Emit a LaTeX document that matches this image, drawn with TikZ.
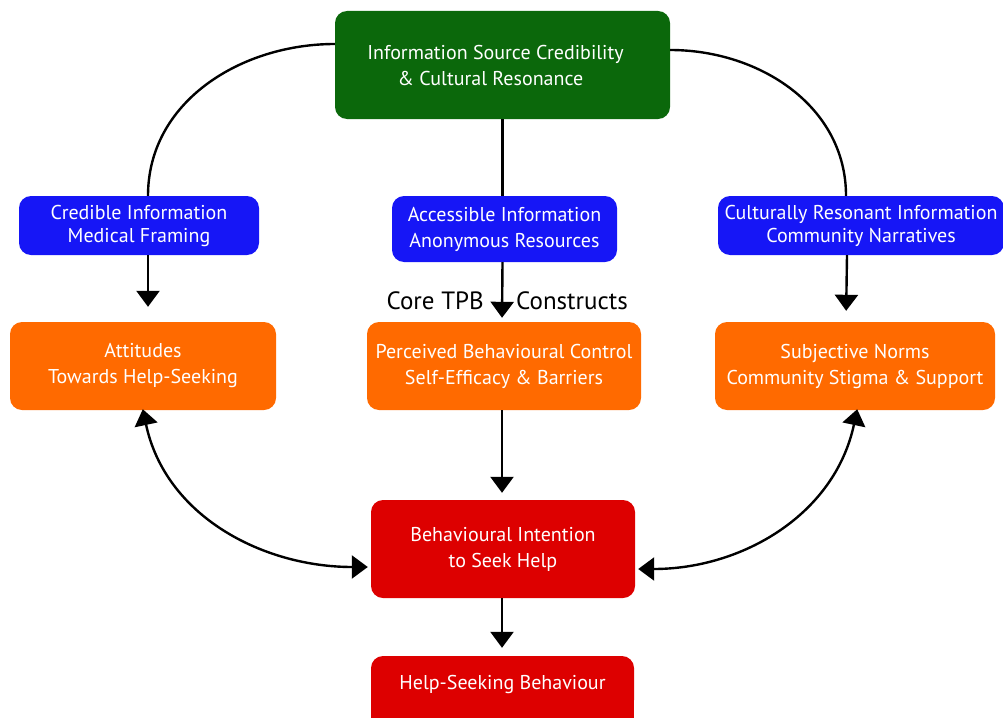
\documentclass[tikz,border=0pt]{standalone}
\usepackage{fontspec}
\setmainfont{PT Sans}
\usetikzlibrary{arrows.meta,calc,backgrounds}
\definecolor{cgreen}{RGB}{11,104,11}
\definecolor{cblue}{RGB}{22,22,246}
\definecolor{corange}{RGB}{255,106,0}
\definecolor{cred}{RGB}{221,0,0}
\tikzset{
  box/.style={rectangle, rounded corners=12pt, draw=none, text=white, align=center,
    inner sep=0pt, font=\fontsize{20}{26}\selectfont},
  tight/.style={font=\fontsize{20}{23}\selectfont},
  conn/.style={line width=2.4pt, black},
  arr/.style={conn, -{Triangle[width=23pt,length=16pt]}},
  darr/.style={conn, {Triangle[width=23pt,length=16pt]}-{Triangle[width=23pt,length=16pt]}},
  lbl/.style={font=\fontsize{25}{28}\selectfont, text=black, inner sep=0pt},
}
\begin{document}
\begin{tikzpicture}[x=1pt,y=-1pt]
\clip (0,0) rectangle (1003,717);
\useasboundingbox (0,0) rectangle (1003,717);

\node[box, fill=cgreen, minimum width=335pt, minimum height=108pt] (src) at (502.5,65) {\hspace*{-14pt}Information Source Credibility\\\hspace*{-24pt}\& Cultural Resonance};

\node[box, tight, fill=cblue, minimum width=240pt, minimum height=59pt] (bl) at (139,225.5) {Credible Information\\Medical Framing};
\node[box, fill=cblue, minimum width=225pt, minimum height=66pt] (bm) at (504.5,229) {Accessible Information\\Anonymous Resources};
\node[box, tight, fill=cblue, minimum width=286pt, minimum height=59pt] (br) at (861,225.5) {Culturally Resonant Information\\Community Narratives};

\node[box, fill=corange, minimum width=266pt, minimum height=88pt] (ol) at (143,366) {Attitudes\\Towards Help-Seeking};
\node[box, fill=corange, minimum width=274pt, minimum height=88pt] (om) at (504,366) {Perceived Behavioural Control\\Self-Efficacy \& Barriers};
\node[box, fill=corange, minimum width=280pt, minimum height=88pt] (or) at (855,366) {Subjective Norms\\Community Stigma \& Support};

\node[box, fill=cred, minimum width=264pt, minimum height=98pt] (rm) at (503,549) {Behavioural Intention\\to Seek Help};
\node[box, fill=cred, minimum width=263pt, minimum height=56pt] (rb) at (502.5,684) {Help-Seeking Behaviour};
\begin{scope}[on background layer]
\fill[cred] (rb.west) rectangle ($(rb.east)+(0,60)$);
\end{scope}

\node[lbl, anchor=east] (lbl1) at (484,301) {Core TPB};
\node[lbl, anchor=west] (lbl2) at (516,301) {Constructs};

% top connectors
\draw[conn] ([yshift=21pt]src.west) to[out=180,in=90] ($(bl.north)+(9,0)$);
\draw[conn] ([yshift=15pt]src.east) to[out=0,in=90] ($(br.north)+(-15,0)$);
\draw[conn] (src.south -| bm.north) ++(-2,0) coordinate (s1) -- (s1 |- bm.north);

% blue -> orange
\draw[arr, shorten >=15pt] ($(bl.south)+(9,0)$) -- ($(ol.north)+(5,0)$);
\draw[arr, shorten >=4pt] ($(bm.south)+(-2,0)$) -- ($(om.north)+(-2,0)$);
\draw[arr, shorten >=11pt] ($(br.south)+(-14,0)$) -- ($(or.north)+(-9,0)$);

% orange -> red
\draw[arr, shorten >=7pt] ($(om.south)+(-2,0)$) -- ($(rm.north)+(-1,0)$);
\draw[arr, shorten >=8pt] ($(rm.south)+(-1,0)$) -- ($(rb.north)+(-0.5,0)$);

% double arrows
\draw[darr, shorten <=-1pt, shorten >=3pt] (ol.south) to[out=-78,in=180] ([yshift=-18pt]rm.west);
\draw[darr, shorten <=-1pt, shorten >=3pt] ($(or.south)+(2,0)$) to[out=-102,in=0] ([yshift=-20pt]rm.east);
\end{tikzpicture}
\end{document}
